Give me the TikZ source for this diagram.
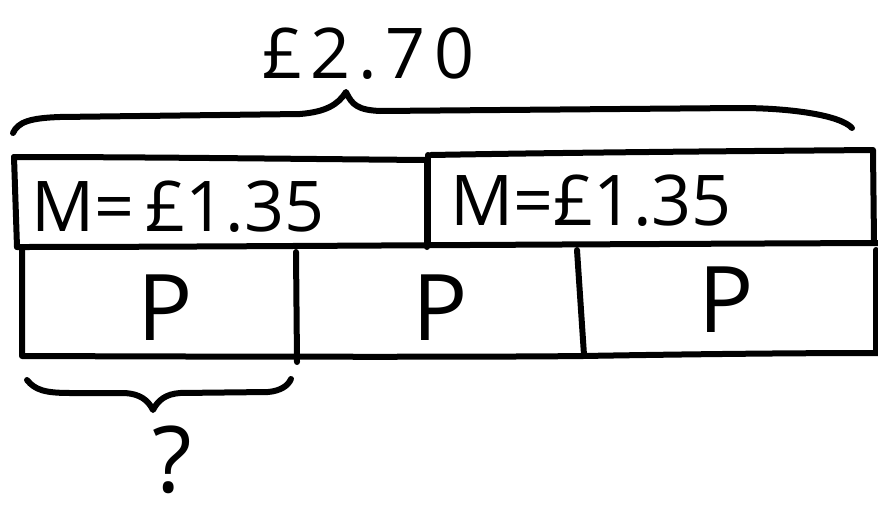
\documentclass[tikz,border=0pt]{standalone}
\usepackage{fontspec}
\setmainfont{Open Sans}
\begin{document}
\begin{tikzpicture}[x=1pt,y=-1pt,
  ink/.style={line width=6pt,line cap=round,line join=round,black},
  lbl/.style={inner sep=0pt,outer sep=0pt,anchor=base west,text depth=0pt},
  big/.style={font=\fontsize{70}{70}\selectfont},
  huge/.style={font=\fontsize{92}{92}\selectfont}]
\useasboundingbox (0,0) rectangle (878,506);
% bar outlines
\draw[ink] (14,157) .. controls (150,157) and (300,159) .. (427,160);
\draw[ink] (14,157) -- (17,247);
\draw[ink] (427,160) -- (427,247);
\draw[ink] (431,155) .. controls (600,152) and (760,151) .. (873,150) -- (874,243);
\draw[ink] (428,155) -- (428,245);
\draw[ink] (17,247) .. controls (200,247) and (400,245) .. (878,243);
\draw[ink] (22,250) -- (22,356) .. controls (300,357) and (500,357) .. (583,356) .. controls (700,354) and (800,353) .. (878,353);
\draw[ink] (296,252) -- (297,362);
\draw[ink] (577,250) -- (584,355);
\draw[ink] (876,250) -- (876,350);
% top brace
\draw[ink] (13,133) .. controls (18,122) and (30,118) .. (60,117)
  -- (300,114) .. controls (325,112) and (338,105) .. (346,92)
  .. controls (352,105) and (358,110) .. (380,111)
  -- (740,108) .. controls (790,108) and (840,115) .. (852,128);
% bottom brace
\draw[ink] (27,380) .. controls (35,390) and (45,393) .. (70,393)
  -- (125,393) .. controls (140,394) and (148,400) .. (153,410)
  .. controls (158,400) and (166,394) .. (180,393)
  -- (268,392) .. controls (280,391) and (288,386) .. (291,379);
% texts
\node[lbl,big] (total) at (262,78) {\addfontfeatures{LetterSpace=12}£2.70};
\node[lbl,big] (m1) at (31,231) {M=\,£1.35};
\node[lbl,big] (m2) at (450,225) {M=£1.35};
\node[lbl,huge,anchor=base] (p1) at (165,340) {P};
\node[lbl,huge,anchor=base] (p2) at (440,340) {P};
\node[lbl,huge,anchor=base] (p3) at (726,332) {P};
\node[lbl,huge,anchor=base] (q) at (172,492) {?};
\end{tikzpicture}
\end{document}
